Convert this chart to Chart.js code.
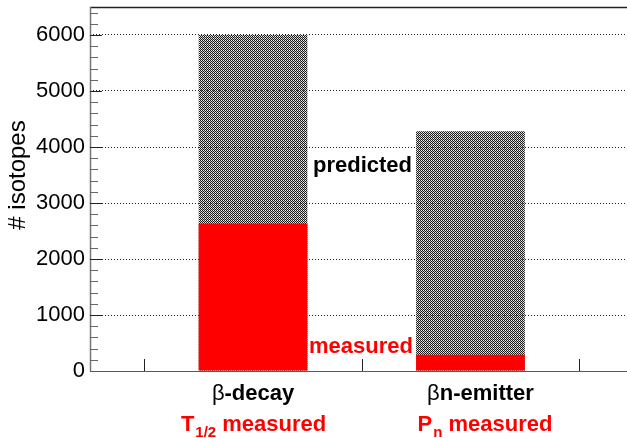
<!DOCTYPE html>
<html>
<head>
<meta charset="utf-8">
<script src="https://cdn.jsdelivr.net/npm/chart.js@4/dist/chart.umd.min.js"></script>
<style>
  html, body { margin: 0; padding: 0; background: #fff; }
  canvas { display: block; }
</style>
</head>
<body>
<canvas id="c" width="627" height="438"></canvas>
<script>
// ---- data ----
const categories = ["β-decay", "βn-emitter"];
const categoryPos = [0.5, 1.5];
const totalIsotopes = [6000, 4280];     // predicted (total) height
const measuredIsotopes = [2630, 290];    // measured part
const measuredLabels = ["T1/2 measured", "Pn measured"];
const yTicks = [0, 1000, 2000, 3000, 4000, 5000, 6000];
const xTicks = [0, 1, 2];

// hatch pattern (partly transparent, like ROOT fill patterns)
function makePattern() {
  const p = document.createElement('canvas');
  p.width = 4; p.height = 4;
  const g = p.getContext('2d');
  for (let i = 0; i < 4; i++) {
    for (let j = 0; j < 4; j++) {
      if ((i + j) % 2 === 0) { g.fillStyle = '#1a1a1a'; }
      else if (i % 2 === 0) { g.fillStyle = 'rgba(140,140,140,0.55)'; }
      else { g.fillStyle = 'rgba(200,200,200,0.3)'; }
      g.fillRect(i, j, 1, 1);
    }
  }
  return document.getElementById('c').getContext('2d').createPattern(p, 'repeat');
}
const hatch = makePattern();

const FONT = "'Liberation Sans', Arial, Helvetica, sans-serif";

const overlay = {
  id: 'overlay',
  afterDraw(chart) {
    const ctx = chart.ctx;
    const a = chart.chartArea;
    const y = chart.scales.y, x = chart.scales.x;
    ctx.save();
    // top frame line
    ctx.strokeStyle = '#222';
    ctx.lineWidth = 1.5;
    ctx.beginPath(); ctx.moveTo(a.left, a.top + 0.5); ctx.lineTo(a.right, a.top + 0.5); ctx.stroke();
    // left axis
    ctx.strokeStyle = '#777';
    ctx.lineWidth = 1.5;
    ctx.beginPath(); ctx.moveTo(a.left + 0.5, a.top); ctx.lineTo(a.left + 0.5, a.bottom); ctx.stroke();
    // y ticks (inside)
    ctx.lineWidth = 1;
    for (let v = 0; v <= 6400; v += 200) {
      const py = Math.round(y.getPixelForValue(v)) + 0.5;
      const major = v % 1000 === 0;
      ctx.strokeStyle = major ? '#222' : '#666';
      ctx.beginPath(); ctx.moveTo(a.left, py); ctx.lineTo(a.left + (major ? 12 : 8), py); ctx.stroke();
    }
    // x ticks (inside)
    ctx.strokeStyle = '#222';
    xTicks.forEach(v => {
      const px = Math.round(x.getPixelForValue(v)) + 0.5;
      ctx.beginPath(); ctx.moveTo(px, a.bottom); ctx.lineTo(px, a.bottom - 12); ctx.stroke();
    });
    // red baseline
    ctx.strokeStyle = '#e02020';
    ctx.lineWidth = 1.2;
    ctx.beginPath(); ctx.moveTo(a.left, a.bottom + 0.5); ctx.lineTo(a.right, a.bottom + 0.5); ctx.stroke();

    // y title
    ctx.save();
    ctx.translate(18, 175);
    ctx.rotate(-Math.PI / 2);
    ctx.fillStyle = '#000';
    ctx.font = "24px " + FONT;
    ctx.textAlign = 'center';
    ctx.textBaseline = 'middle';
    ctx.fillText('# isotopes', 0, 0);
    ctx.restore();

    // in-plot labels
    ctx.textBaseline = 'alphabetic';
    ctx.textAlign = 'left';
    ctx.font = "bold 22px " + FONT;
    ctx.fillStyle = '#000';
    ctx.fillText('predicted', 313, 172);
    ctx.fillStyle = '#ff0000';
    ctx.fillText('measured', 309, 353);

    // category labels under axis
    const labelCenters = [x.getPixelForValue(categoryPos[0]), x.getPixelForValue(categoryPos[1]) + 10];
    const measCenters = [labelCenters[0], labelCenters[1] + 4];
    categories.forEach((cat, i) => {
      const beta = cat[0], rest = cat.slice(1);
      ctx.font = "22px " + FONT;
      const w1 = ctx.measureText(beta).width;
      ctx.font = "bold 22px " + FONT;
      const w2 = ctx.measureText(rest).width;
      const x0 = labelCenters[i] - (w1 + w2) / 2;
      ctx.fillStyle = '#000';
      ctx.font = "22px " + FONT;
      ctx.fillText(beta, x0, 400);
      ctx.font = "bold 22px " + FONT;
      ctx.fillText(rest, x0 + w1, 400);
    });
    // measured labels with subscripts
    ctx.fillStyle = '#ff0000';
    measuredLabels.forEach((lab, i) => {
      const parts = lab.split(' ');
      const head = parts[0];
      const main = head[0];
      const sub = head.slice(1);
      const tail = ' ' + parts.slice(1).join(' ');
      ctx.font = "bold 22px " + FONT;
      const wm = ctx.measureText(main).width;
      const wt = ctx.measureText(tail).width;
      ctx.font = "bold 15px " + FONT;
      const ws = ctx.measureText(sub).width;
      const x0 = measCenters[i] - (wm + ws + wt) / 2;
      ctx.font = "bold 22px " + FONT;
      ctx.fillText(main, x0, 431);
      ctx.font = "bold 15px " + FONT;
      ctx.fillText(sub, x0 + wm + 1, 437);
      ctx.font = "bold 22px " + FONT;
      ctx.fillText(tail, x0 + wm + ws + 1, 431);
    });
    ctx.restore();
  }
};

new Chart(document.getElementById('c'), {
  type: 'bar',
  data: {
    datasets: [
      {
        label: 'measured',
        order: 0,
        data: categoryPos.map((p, i) => ({ x: p, y: measuredIsotopes[i] })),
        backgroundColor: '#ff0000',
        borderWidth: 0,
        barPercentage: 0.5,
        categoryPercentage: 1
      },
      {
        label: 'predicted',
        order: 1,
        data: categoryPos.map((p, i) => ({ x: p, y: totalIsotopes[i] })),
        backgroundColor: hatch,
        borderWidth: 0,
        barPercentage: 0.5,
        categoryPercentage: 1
      }
    ]
  },
  options: {
    responsive: false,
    animation: false,
    devicePixelRatio: 1,
    layout: { padding: { top: 7, right: 0, left: 0, bottom: 0 } },
    plugins: { legend: { display: false }, tooltip: { enabled: false } },
    scales: {
      x: {
        type: 'linear',
        stacked: true,
        offset: false,
        min: -0.25,
        max: 2.22,
        afterBuildTicks(s) { s.ticks = xTicks.map(v => ({ value: v })); },
        afterFit(s) { s.height = 67; s.paddingLeft = 0; s.paddingRight = 0; },
        ticks: { display: false },
        grid: { display: false, drawTicks: false },
        border: { display: false }
      },
      y: {
        type: 'linear',
        stacked: false,
        min: 0,
        max: 6500,
        afterBuildTicks(s) { s.ticks = yTicks.map(v => ({ value: v })); },
        afterFit(s) { s.width = 90; s.paddingTop = 0; s.paddingBottom = 0; },
        ticks: {
          padding: 5,
          color: '#000',
          font: { family: FONT, size: 22 },
          callback: v => String(v)
        },
        grid: {
          drawTicks: false,
          color: ctx => (ctx.tick && ctx.tick.value === 0) ? 'rgba(0,0,0,0)' : '#222',
          lineWidth: 1
        },
        border: { display: false, dash: [1, 2] }
      }
    }
  },
  plugins: [overlay]
});
</script>
</body>
</html>
